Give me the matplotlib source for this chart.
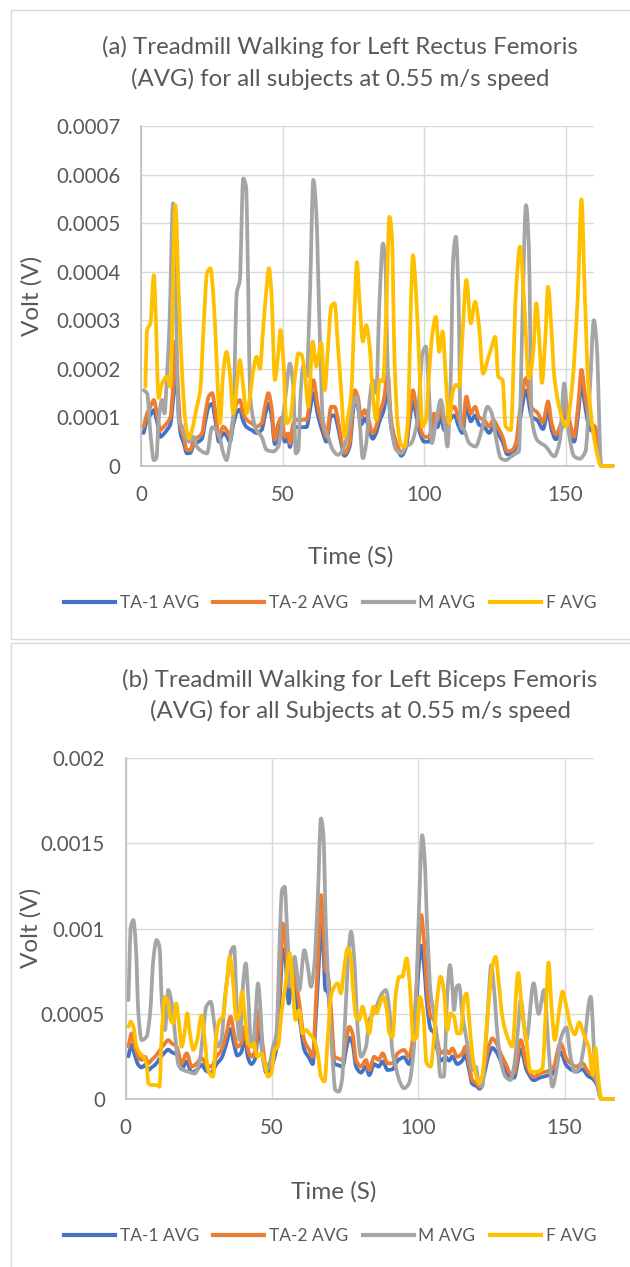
# EMG averages, treadmill walking at 0.55 m/s - two stacked Excel-style charts

import numpy as np
import matplotlib
matplotlib.use('Agg')
import matplotlib.pyplot as plt
from matplotlib.patches import Rectangle, PathPatch
from matplotlib.path import Path
from matplotlib.lines import Line2D

# ---------------- data (volts, in units of 1e-4 V) ----------------
series_names = ['TA-1 AVG', 'TA-2 AVG', 'M AVG', 'F AVG']
series_colors = ['#4472C4', '#ED7D31', '#A5A5A5', '#FFC000']

# (a) Left Rectus Femoris
a_ta_t = [0.8, 2, 3.2, 4.4, 5.5, 6.7, 7.9, 9, 10.2, 11.2,
          12, 12.9, 13.8, 14.9, 16.1, 17.3, 18.5, 20.2, 21.4, 22.6,
          23.8, 25, 26.2, 27.4, 28.9, 30.1, 31.3, 32.5, 33.7, 34.8,
          36, 37.2, 39, 40.7, 42.5, 43.7, 44.9, 46, 47.2, 48.4,
          49.6, 50.7, 51.9, 52.5, 53.7, 54.9, 56.6, 58.4, 59.6, 60.8,
          62.4, 64.2, 65.4, 67.1, 68.3, 69.5, 70.7, 71.8, 73.6, 75.4,
          76.5, 77.7, 78.9, 80.1, 81.8, 83, 84.2, 85.7, 87.1, 88.3,
          89.5, 90.7, 91.9, 93.6, 94.8, 96, 97, 98.2, 100, 101.7,
          103.5, 104.7, 105.9, 107.1, 108.8, 110.6, 112.3, 113.5, 114.9, 116.5,
          118, 119.4, 121.2, 123, 124.4, 125.9, 127.7, 129.4, 131.2, 132.4,
          134, 136, 138, 140, 142, 143.8, 145, 146.5, 148.5, 150,
          151.5, 153, 154.5, 155.6, 157, 158.5, 160.5, 162.6, 166.6]
a_ta1 = [0.68, 0.95, 1.05, 1.15, 0.92, 0.6, 0.66, 0.74, 0.85, 1.35,
         2.1, 1.35, 0.68, 0.48, 0.26, 0.27, 0.44, 0.5, 0.56, 0.92,
         1.22, 1.28, 0.92, 0.5, 0.68, 0.62, 0.5, 0.85, 1.1, 1.16,
         0.92, 0.8, 0.74, 0.68, 0.74, 1.04, 1.28, 1.04, 0.45, 0.74,
         0.85, 0.5, 0.56, 0.39, 0.74, 0.8, 0.8, 0.8, 1.15, 1.5,
         1.04, 0.68, 0.5, 1.04, 1.04, 0.8, 0.45, 0.21, 0.39, 1.32,
         1.22, 0.85, 0.98, 0.85, 0.56, 0.68, 0.92, 1.15, 1.6, 0.8,
         0.5, 0.33, 0.21, 0.39, 0.92, 1.32, 1.1, 0.74, 0.5, 0.5,
         0.92, 0.8, 1.04, 0.74, 0.92, 1.04, 0.8, 0.68, 1.22, 0.92,
         1.04, 0.85, 0.8, 0.68, 0.8, 0.68, 0.5, 0.24, 0.27, 0.39,
         1.0, 1.55, 1.02, 0.94, 0.76, 1.13, 0.76, 0.55, 0.76, 1.1,
         0.76, 0.5, 1.1, 1.68, 1.19, 0.76, 0.68, 0.0, 0.0]
a_ta2 = [0.81, 1.08, 1.22, 1.36, 1.08, 0.74, 0.81, 0.88, 1.0, 1.63,
         2.56, 1.63, 0.81, 0.6, 0.33, 0.33, 0.54, 0.6, 0.67, 1.08,
         1.43, 1.5, 1.1, 0.6, 0.81, 0.74, 0.6, 1.0, 1.29, 1.36,
         1.08, 0.95, 0.88, 0.81, 0.88, 1.22, 1.5, 1.22, 0.54, 0.88,
         1.0, 0.6, 0.67, 0.47, 0.88, 0.95, 0.95, 0.95, 1.36, 1.77,
         1.22, 0.81, 0.6, 1.22, 1.22, 0.95, 0.54, 0.26, 0.47, 1.56,
         1.43, 1.0, 1.15, 1.0, 0.67, 0.81, 1.08, 1.36, 1.9, 0.95,
         0.6, 0.4, 0.26, 0.47, 1.08, 1.56, 1.29, 0.88, 0.6, 0.6,
         1.08, 0.95, 1.22, 0.88, 1.08, 1.22, 0.95, 0.81, 1.43, 1.08,
         1.22, 1.0, 0.95, 0.81, 0.95, 0.81, 0.6, 0.3, 0.33, 0.47,
         1.2, 1.81, 1.2, 1.1, 0.9, 1.33, 0.9, 0.65, 0.9, 1.3,
         0.9, 0.6, 1.3, 1.98, 1.4, 0.9, 0.8, 0.0, 0.0]

a_m_t = [0.8, 2, 3.2, 4.4, 5.3, 6.1, 7.3, 8.2, 9, 9.9,
         11.2, 12, 13.2, 14.4, 15.5, 16.7, 18.5, 19.6, 21.4, 23.2,
         25, 27.2, 29, 30.1, 31.3, 32.5, 33.7, 34.8, 36, 37,
         37.8, 38.4, 39.6, 40.7, 42.5, 44.3, 46.6, 48.4, 49.6, 51.1,
         52.5, 53.7, 54.6, 55.5, 56.3, 57.2, 58.4, 59.6, 60.8, 61.8,
         63, 64.2, 66, 67.7, 69.5, 71.2, 73, 74.8, 76, 77.1,
         78.3, 79.5, 80.7, 81.8, 83, 84.2, 85.4, 86.2, 87.1, 88.3,
         90.1, 91.9, 93.6, 95.4, 97.6, 99.4, 100.6, 101.7, 102.7, 104.1,
         105.9, 107.1, 108.2, 109.4, 110.2, 111.2, 112.1, 112.9, 114.1, 115.9,
         118.2, 120, 122.4, 123.9, 125.3, 127.1, 128.8, 130.6, 132.4, 133.5,
         134.5, 136, 137, 138, 140, 143, 146, 148, 149.5, 151,
         153, 155, 157, 158.5, 160, 161, 162.6, 166.6]
a_m = [1.56, 1.5, 0.67, 0.12, 0.16, 0.95, 1.36, 1.08, 1.84, 2.87,
       5.41, 3.9, 0.95, 0.81, 0.6, 0.5, 0.6, 0.4, 0.3, 0.26,
       0.8, 0.67, 0.26, 0.12, 0.47, 1.0, 3.55, 3.83, 5.92, 5.75,
       3.55, 1.5, 0.95, 0.74, 0.6, 0.33, 0.3, 0.4, 0.81, 1.5,
       2.11, 1.63, 0.26, 0.33, 1.5, 2.05, 1.84, 3.55, 5.89, 5.27,
       2.87, 0.95, 0.6, 0.33, 0.23, 0.33, 0.67, 1.22, 1.43, 0.95,
       0.16, 0.47, 1.36, 1.77, 1.5, 3.42, 4.58, 4.24, 2.05, 0.81,
       0.33, 0.26, 0.4, 0.47, 0.95, 2.32, 2.46, 1.5, 0.47, 0.88,
       1.36, 0.95, 0.4, 1.84, 4.24, 4.72, 3.55, 0.81, 0.74, 0.47,
       0.4, 0.67, 1.22, 1.08, 0.6, 0.16, 0.12, 0.19, 0.26, 0.3,
       2.5, 5.37, 4.5, 1.0, 0.53, 0.4, 0.2, 0.53, 1.7, 0.74,
       0.2, 0.15, 0.3, 1.5, 3.0, 2.5, 0.0, 0.0]

a_f_t = [1.4, 2, 3.2, 4.4, 4.9, 6.1, 7.3, 9, 10.2, 12,
         13.2, 14.4, 15.5, 16.7, 17.9, 19.6, 20.8, 22, 23.2, 24.4,
         25.4, 26.6, 27.8, 28.9, 30.1, 31.3, 32.5, 33.7, 34.8, 36,
         37.2, 38.4, 39.6, 40.7, 41.9, 43.1, 44.3, 45.1, 46, 47.2,
         48.4, 49.2, 50.2, 51.3, 52.5, 54.3, 55.5, 56.6, 57.8, 59,
         60.6, 61.8, 63.6, 64.8, 66, 67.1, 68.3, 69.5, 70.7, 71.8,
         73, 74.2, 75.4, 76.2, 77.1, 78.3, 79.5, 80.7, 81.8, 83,
         84.2, 85.4, 86.6, 87.7, 88.6, 89.5, 90.7, 91.9, 93, 94.2,
         95.4, 96, 97, 98.2, 99.4, 100.6, 101.7, 102.9, 104.1, 105.3,
         106.5, 107.6, 108.8, 110, 111.2, 112.3, 113.5, 114.9, 116.5, 118,
         119.4, 120.8, 122.4, 123.9, 125.1, 126.2, 127.7, 128.8, 130.6, 132.4,
         133.9, 135.5, 137, 138.5, 139.6, 140.8, 141.6, 142.8, 143.8, 145,
         146, 148, 150.2, 152.4, 154.3, 155.6, 156.8, 158, 160.2, 162.6, 166.6]
a_f = [1.63, 2.8, 2.94, 3.93, 3.4, 1.4, 1.7, 1.84, 1.63, 5.37,
       3.55, 1.9, 0.95, 0.57, 0.74, 1.22, 1.56, 2.87, 3.97, 4.07,
       3.55, 2.18, 0.88, 1.9, 2.35, 1.9, 1.08, 1.63, 2.18, 1.63,
       1.08, 1.43, 1.98, 2.25, 2.0, 2.87, 3.69, 4.07, 3.55, 1.77,
       2.32, 2.8, 2.18, 0.88, 0.95, 1.84, 2.32, 2.29, 1.9, 1.22,
       2.56, 2.05, 2.53, 1.56, 2.46, 3.28, 3.35, 2.46, 1.5, 0.6,
       1.0, 1.5, 3.28, 4.2, 3.42, 2.56, 2.9, 2.46, 1.5, 0.95,
       1.77, 1.74, 3.21, 5.13, 4.72, 2.18, 0.81, 0.43, 0.4, 0.95,
       3.55, 4.34, 3.69, 2.18, 0.81, 0.95, 1.9, 2.73, 3.07, 2.35,
       2.77, 1.84, 0.88, 1.5, 1.67, 1.63, 2.66, 3.83, 2.94, 3.38,
       2.87, 1.9, 2.18, 2.46, 2.66, 1.84, 1.77, 0.81, 0.74, 3.55,
       4.52, 3.2, 1.8, 2.3, 3.35, 2.5, 1.71, 2.6, 3.69, 2.8,
       1.84, 1.15, 0.81, 1.7, 3.5, 5.49, 3.5, 1.71, 0.53, 0.0, 0.0]

# (b) Left Biceps Femoris
b_ta_t = [0.9, 2, 3.1, 4.3, 5.4, 6.6, 7.7, 8.8, 10, 11.7,
          13.4, 14.5, 15.7, 17.4, 19.1, 20.8, 22.5, 24.2, 25.9, 27.5,
          29.2, 31, 32.7, 34.4, 35.8, 37, 38.1, 39.5, 40.6, 41.8,
          42.9, 44.3, 45.4, 46.6, 48, 49.7, 51.4, 52.6, 53.7, 54.5,
          55.7, 56.8, 57.9, 59.4, 61, 62.7, 63.9, 65, 66.1, 66.7,
          67.5, 68.2, 69, 70.1, 71.3, 72.4, 74.1, 75.3, 76.4, 77.5,
          78.7, 80.4, 82.1, 83.2, 84.9, 86.4, 87.8, 89.5, 91.2, 92.9,
          95.1, 96.8, 97.9, 99.1, 100.2, 101, 101.9, 103.1, 104.2, 105.3,
          106.5, 107.6, 109.3, 110.5, 111.6, 113.3, 115, 116.1, 117.3, 118.4,
          119.9, 121, 122.4, 124.1, 125.3, 126.7, 128.1, 129.8, 131.5, 132.7,
          135, 137, 139.5, 141.5, 143.6, 146, 148.6, 150.5, 152, 154,
          156, 158, 159.5, 161, 162.6, 166.6]
b_ta1 = [2.5, 3.2, 2.55, 2.0, 1.85, 2.0, 1.7, 1.85, 2.0, 2.4,
         2.75, 2.9, 2.75, 2.6, 1.75, 2.2, 1.55, 1.7, 2.0, 1.65,
         1.55, 2.05, 2.4, 3.25, 4.1, 3.2, 2.55, 2.75, 3.6, 2.4,
         2.05, 2.4, 4.4, 2.9, 1.55, 1.9, 2.9, 5.8, 8.8, 8.3,
         5.6, 7.0, 6.2, 4.7, 2.9, 2.4, 2.05, 4.9, 8.3, 10.2,
         8.9, 6.4, 6.3, 4.6, 2.05, 2.0, 1.9, 2.9, 3.6, 3.25,
         1.9, 1.55, 1.9, 1.4, 2.05, 1.9, 2.2, 1.7, 1.75, 2.25,
         2.45, 2.05, 2.75, 4.9, 7.9, 9.0, 7.9, 5.3, 4.1, 3.9,
         2.9, 2.25, 2.45, 2.25, 2.5, 2.05, 2.25, 2.6, 1.75, 0.9,
         0.75, 0.6, 1.4, 2.6, 3.0, 2.75, 2.25, 1.75, 1.25, 1.25,
         2.9, 1.7, 1.1, 1.25, 1.35, 1.5, 2.75, 2.0, 1.75, 1.6,
         1.75, 1.35, 1.2, 0.85, 0.0, 0.0]
b_ta2 = [3.07, 3.85, 3.07, 2.48, 2.29, 2.48, 2.09, 2.29, 2.48, 2.88,
         3.27, 3.46, 3.27, 3.07, 2.09, 2.68, 1.9, 2.09, 2.4, 2.0,
         1.9, 2.48, 2.88, 3.85, 4.83, 3.85, 3.07, 3.27, 4.24, 2.88,
         2.48, 2.88, 5.22, 3.46, 1.9, 2.29, 3.46, 6.79, 10.3, 9.33,
         6.59, 8.16, 7.18, 5.5, 3.46, 2.88, 2.48, 5.81, 9.72, 11.97,
         10.5, 7.57, 7.37, 5.42, 2.48, 2.39, 2.29, 3.46, 4.24, 3.85,
         2.29, 1.9, 2.29, 1.7, 2.48, 2.29, 2.68, 2.09, 2.09, 2.68,
         2.88, 2.48, 3.27, 5.81, 9.33, 10.8, 9.33, 6.2, 4.83, 4.64,
         3.46, 2.68, 2.88, 2.68, 2.97, 2.48, 2.68, 3.07, 2.09, 1.12,
         0.92, 0.72, 1.7, 3.07, 3.56, 3.27, 2.68, 2.09, 1.5, 1.5,
         3.46, 2.0, 1.3, 1.5, 1.6, 1.8, 3.27, 2.4, 2.1, 1.9,
         2.1, 1.6, 1.4, 1.0, 0.0, 0.0]

b_m_t = [0.9, 1.7, 2.6, 3.5, 4.3, 5.4, 7.1, 8.3, 9.4, 10.5,
         11.5, 12.3, 13.4, 14.5, 15.7, 16.8, 18, 19.7, 21.4, 23.6,
         25.3, 26.4, 27.5, 29, 30.4, 31.5, 32.7, 33.8, 34.9, 36.1,
         37, 38.1, 38.9, 40.1, 41, 41.8, 42.7, 43.5, 44.3, 45.2,
         46.1, 46.9, 48, 49.2, 50.3, 51.5, 52.6, 53.4, 54.3, 55.2,
         56.3, 57.7, 59.3, 61, 62.2, 63.3, 64.4, 65.6, 66.7, 67.5,
         68.4, 69.6, 70.7, 71.6, 72.8, 73.9, 75, 76.2, 77, 78.1,
         79.2, 80.4, 82.1, 83.2, 84.6, 86.1, 87.6, 88.9, 90.1, 91.2,
         92.3, 93.4, 95.1, 96.8, 98.5, 99.6, 100.5, 101.3, 102.1, 103.1,
         104.2, 105.3, 106.5, 107.6, 108.7, 109.9, 110.8, 111.6, 112.2, 113.1,
         113.9, 115, 116.1, 117.3, 118.4, 119.6, 120.7, 121.8, 123, 124.1,
         124.9, 125.8, 127, 128.1, 129.8, 131.5, 132.7, 134, 135, 136.9,
         139.4, 141.1, 143, 144.5, 145.8, 147.5, 148.6, 150.6, 152, 153.4,
         155, 156.5, 158.9, 160.5, 162.6, 166.6]
b_m = [5.81, 10.1, 10.5, 8.74, 5.03, 3.46, 3.66, 5.03, 8.16, 9.33,
       8.94, 5.81, 4.05, 6.4, 5.61, 3.85, 2.0, 1.7, 1.6, 1.5,
       2.29, 3.85, 5.42, 5.71, 4.24, 3.07, 3.46, 5.81, 7.37, 8.74,
       8.94, 4.83, 3.46, 6.79, 7.96, 6.2, 3.46, 3.07, 4.83, 6.79,
       5.03, 2.29, 1.7, 2.09, 3.07, 3.85, 9.33, 12.27, 12.46, 9.72,
       6.59, 8.35, 6.4, 8.74, 7.77, 6.59, 7.77, 11.68, 16.47, 15.6,
       10.1, 5.42, 2.29, 0.53, 0.43, 1.12, 4.83, 8.74, 9.82, 8.16,
       4.24, 2.48, 3.07, 4.64, 5.03, 5.61, 6.2, 6.4, 5.22, 2.68,
       1.9, 1.12, 0.63, 0.92, 3.07, 7.77, 12.66, 15.49, 14.22, 9.72,
       6.2, 5.03, 3.27, 1.31, 1.31, 6.2, 7.86, 6.59, 5.22, 6.59,
       6.69, 5.03, 3.85, 2.68, 1.7, 1.9, 0.92, 0.72, 3.07, 6.2,
       7.86, 6.59, 3.85, 2.29, 1.31, 1.12, 1.9, 4.0, 5.81, 3.46,
       6.8, 5.0, 6.4, 3.0, 0.72, 2.0, 3.5, 4.2, 2.5, 1.6,
       1.8, 3.0, 6.0, 1.6, 0.0, 0.0]

b_f_t = [0.9, 1.7, 2.6, 3.7, 4.9, 6, 7.1, 7.7, 8.8, 10.5,
         11.5, 12.3, 13.4, 14.5, 15.3, 16.2, 17.2, 18.3, 19.1, 20.2,
         21, 21.9, 23.1, 24.4, 25.9, 27, 28.1, 29.8, 31, 32.1,
         33.2, 34.4, 35.5, 36.6, 37.8, 38.9, 39.7, 40.6, 41.8, 42.9,
         43.8, 44.9, 46.3, 47.5, 48.6, 49.7, 50.9, 52, 53.2, 54.5,
         56, 56.9, 58, 59.3, 60.4, 61.6, 62.7, 64.4, 65.6, 66.7,
         67.9, 69, 70.1, 71.3, 72.4, 73.5, 74.7, 75.8, 76.7, 77.8,
         78.7, 79.8, 80.9, 82.1, 83.2, 84.6, 85.7, 86.9, 88, 89.2,
         90.1, 91.2, 92.3, 93.5, 94.5, 96, 97.1, 98.3, 99.4, 100.5,
         101.7, 102.8, 104.2, 105.3, 106.5, 107.6, 108.7, 109.9, 111, 112.2,
         113.3, 114.4, 115.6, 116.5, 117.3, 118.4, 119.6, 120.7, 121.8, 123,
         124.1, 125.3, 126.4, 127.5, 128.7, 130.4, 132.1, 134.1, 135.5, 136.9,
         138.3, 140.5, 142.4, 143.5, 144.5, 145.5, 146.6, 148, 149.3, 150.5,
         152, 153.5, 155, 156.5, 158.3, 159.6, 160.5, 161.5, 162.6, 166.6]
b_f = [4.24, 4.54, 4.24, 3.07, 2.68, 2.48, 2.09, 0.92, 0.82, 0.82,
       0.72, 3.85, 6.0, 5.61, 4.64, 4.44, 5.61, 4.24, 3.07, 4.05,
       5.03, 3.85, 2.88, 3.46, 4.9, 3.46, 1.7, 1.31, 3.85, 4.64,
       4.83, 6.59, 8.35, 6.98, 4.64, 5.03, 6.3, 5.03, 3.27, 3.07,
       3.27, 2.48, 2.68, 2.09, 1.31, 1.5, 2.88, 3.07, 5.03, 6.59,
       8.55, 6.98, 4.64, 5.22, 3.85, 4.05, 3.85, 3.46, 2.68, 1.31,
       1.02, 3.46, 6.0, 6.59, 6.79, 6.2, 7.77, 8.84, 8.55, 6.2,
       4.83, 4.64, 5.42, 4.64, 3.85, 5.42, 5.03, 5.61, 6.0, 5.22,
       3.85, 3.66, 6.2, 7.18, 7.18, 8.26, 6.59, 3.46, 3.66, 6.0,
       5.03, 2.09, 1.9, 3.46, 6.0, 7.18, 6.4, 4.05, 5.03, 4.83,
       3.85, 3.85, 5.81, 6.2, 4.83, 2.68, 1.5, 0.92, 1.31, 3.46,
       5.81, 7.77, 8.35, 6.79, 4.83, 3.66, 3.07, 7.4, 5.0, 3.46,
       1.6, 1.6, 1.8, 5.0, 8.0, 5.5, 3.46, 5.0, 6.3, 5.5,
       4.3, 3.8, 4.5, 3.8, 3.0, 1.4, 3.0, 1.2, 0.0, 0.0]

a_title = ['(a) Treadmill Walking for Left Rectus Femoris',
           '(AVG) for all subjects at 0.55 m/s speed']
b_title = ['(b) Treadmill Walking for Left Biceps Femoris',
           '(AVG) for all Subjects at 0.55 m/s speed']
x_ticks = [0, 50, 100, 150]
a_yticks = [0, 1, 2, 3, 4, 5, 6, 7]
b_yticks = [0, 5, 10, 15, 20]
UNIT = 1e-4

# ---------------- figure ----------------
W, H = 630, 1267
plt.rcParams['font.family'] = ['Lato', 'DejaVu Sans']
TXT = '#595959'
fig = plt.figure(figsize=(W / 100, H / 100), dpi=100)


def fx(px):
    return px / W


def fy(py):
    return 1 - py / H


def fit_size(s, width_px, base=12.0):
    t = fig.text(0, 0, s, fontsize=base)
    w = t.get_window_extent(renderer=fig.canvas.get_renderer()).width
    t.remove()
    return base * width_px / w


def smooth_path(t, v):
    # Excel-like smoothed line: cubic Bezier through every point,
    # flat tangents at local extremes so peaks stay at the read values
    t = np.asarray(t, float)
    v = np.asarray(v, float)
    h = np.diff(t)
    d = np.diff(v) / h
    m = np.zeros_like(v)
    m[0], m[-1] = d[0], d[-1]
    for k in range(1, len(v) - 1):
        if d[k - 1] * d[k] > 0:
            m[k] = 2.0 / (1.0 / d[k - 1] + 1.0 / d[k])
    verts = [(t[0], v[0])]
    codes = [Path.MOVETO]
    for k in range(len(h)):
        verts += [(t[k] + h[k] / 3, v[k] + m[k] * h[k] / 3),
                  (t[k + 1] - h[k] / 3, v[k + 1] - m[k + 1] * h[k] / 3),
                  (t[k + 1], v[k + 1])]
        codes += [Path.CURVE4] * 3
    return Path(verts, codes)


title_fs = fit_size(a_title[0], 474)
tick_fs = fit_size('0.0007', 64)
leg_fs = fit_size('TA-1 AVG', 79)
lab_fs = fit_size('Time (S)', 85)

# chart-area borders
for top, bot in [(10, 639), (643, 1300)]:
    fig.patches.append(Rectangle((fx(10.5), fy(bot)), fx(700), (bot - top) / H,
                                 transform=fig.transFigure, fill=False,
                                 edgecolor='#D9D9D9', lw=1.0))


def draw_panel(box, series, yticks, title, title_x, title_y, xlab_xy, ylab_xy, leg_y):
    left, right, top, bot = box
    ax = fig.add_axes([fx(left), fy(bot), (right - left) / W, (bot - top) / H])
    for (t, v), c in zip(series, series_colors):
        ax.add_patch(PathPatch(smooth_path(t, np.array(v) * UNIT), fill=False,
                               edgecolor=c, lw=2.7, clip_on=False,
                               joinstyle='round', capstyle='round'))
    ax.set_xlim(0, 160)
    ax.set_ylim(0, yticks[-1] * UNIT)
    ax.set_xticks(x_ticks)
    ax.set_yticks([k * UNIT for k in yticks])
    ax.set_yticklabels(['%g' % (k * UNIT) for k in yticks])
    ax.grid(True, color='#D9D9D9', lw=1.0)
    ax.set_axisbelow(True)
    for s in ['top', 'right']:
        ax.spines[s].set_visible(False)
    for s in ['left', 'bottom']:
        ax.spines[s].set_color('#BFBFBF')
        ax.spines[s].set_linewidth(1.2)
    ax.tick_params(axis='both', length=0, labelsize=tick_fs, labelcolor=TXT)
    ax.tick_params(axis='y', pad=15)
    ax.tick_params(axis='x', pad=14)

    fig.text(fx(title_x), fy(title_y[0]), title[0], ha='center', va='center',
             fontsize=title_fs, color=TXT)
    fig.text(fx(title_x), fy(title_y[1]), title[1], ha='center', va='center',
             fontsize=title_fs, color=TXT)
    fig.text(fx(xlab_xy[0]), fy(xlab_xy[1]), 'Time (S)', ha='center', va='center',
             fontsize=lab_fs, color=TXT)
    fig.text(fx(ylab_xy[0]), fy(ylab_xy[1]), 'Volt (V)', ha='center', va='center',
             rotation=90, fontsize=lab_fs, color=TXT)

    fpx = leg_fs * 100 / 72
    handles = [Line2D([], [], color=c, lw=3.0) for c in series_colors]
    fig.legend(handles, series_names, loc='center', ncol=4,
               bbox_to_anchor=(fx(330), fy(leg_y)), frameon=False,
               fontsize=leg_fs, labelcolor=TXT, handlelength=51 / fpx,
               handletextpad=5 / fpx, columnspacing=14 / fpx, borderpad=0)
    return ax


draw_panel((141.4, 593.9, 126, 466),
           [(a_ta_t, a_ta1), (a_ta_t, a_ta2), (a_m_t, a_m), (a_f_t, a_f)],
           a_yticks, a_title, 340, (47, 79), (351, 557), (32, 296), 603)

draw_panel((125.8, 593.9, 758.3, 1099),
           [(b_ta_t, b_ta1), (b_ta_t, b_ta2), (b_m_t, b_m), (b_f_t, b_f)],
           b_yticks, b_title, 360, (680, 711), (334, 1192), (31, 928), 1236)

fig.savefig('out.png', dpi=100)
